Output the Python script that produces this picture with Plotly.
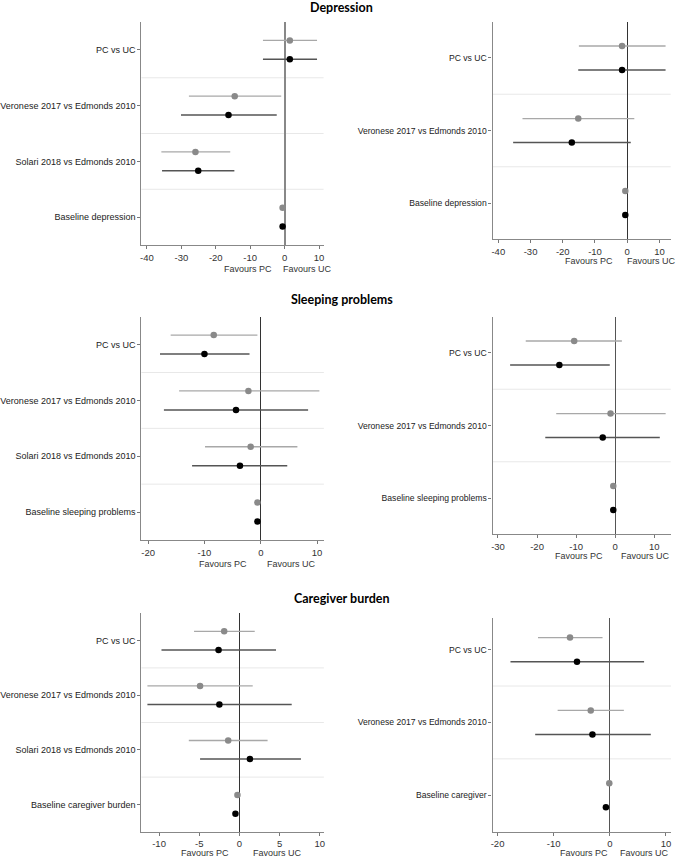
import plotly.graph_objects as go

# ---------------- data ----------------
cats4_dep = ["PC vs UC", "Veronese 2017 vs Edmonds 2010", "Solari 2018 vs Edmonds 2010", "Baseline depression"]
cats3_dep = ["PC vs UC", "Veronese 2017 vs Edmonds 2010", "Baseline depression"]
cats4_sleep = ["PC vs UC", "Veronese 2017 vs Edmonds 2010", "Solari 2018 vs Edmonds 2010", "Baseline sleeping problems"]
cats3_sleep = ["PC vs UC", "Veronese 2017 vs Edmonds 2010", "Baseline sleeping problems"]
cats4_care = ["PC vs UC", "Veronese 2017 vs Edmonds 2010", "Solari 2018 vs Edmonds 2010", "Baseline caregiver burden"]
cats3_care = ["PC vs UC", "Veronese 2017 vs Edmonds 2010", "Baseline caregiver"]

# Panel 1: Depression (left)
p1_gray_est = [1.5, -14.5, -25.9, -0.6]
p1_gray_lo = [-6.3, -27.8, -35.8, -0.6]
p1_gray_hi = [9.4, -1.0, -15.8, -0.6]
p1_black_est = [1.5, -16.3, -25.1, -0.6]
p1_black_lo = [-6.3, -30.1, -35.6, -0.6]
p1_black_hi = [9.4, -2.3, -14.6, -0.6]

# Panel 2: Depression (right)
p2_gray_est = [-1.6, -15.2, -0.6]
p2_gray_lo = [-15.0, -32.5, -0.6]
p2_gray_hi = [11.9, 2.2, -0.6]
p2_black_est = [-1.6, -17.2, -0.6]
p2_black_lo = [-15.2, -35.4, -0.6]
p2_black_hi = [11.9, 1.1, -0.6]

# Panel 3: Sleeping problems (left)
p3_gray_est = [-8.35, -2.2, -1.8, -0.6]
p3_gray_lo = [-16.0, -14.5, -9.9, -0.6]
p3_gray_hi = [-0.6, 10.4, 6.5, -0.6]
p3_black_est = [-10.0, -4.4, -3.7, -0.6]
p3_black_lo = [-17.9, -17.2, -12.2, -0.6]
p3_black_hi = [-2.0, 8.4, 4.7, -0.6]

# Panel 4: Sleeping problems (right)
p4_gray_est = [-10.5, -1.2, -0.5]
p4_gray_lo = [-22.9, -15.1, -0.5]
p4_gray_hi = [1.7, 12.9, -0.5]
p4_black_est = [-14.3, -3.2, -0.5]
p4_black_lo = [-26.9, -17.9, -0.5]
p4_black_hi = [-1.4, 11.4, -0.5]

# Panel 5: Caregiver burden (left)
p5_gray_est = [-1.9, -4.9, -1.4, -0.25]
p5_gray_lo = [-5.65, -11.45, -6.3, -0.25]
p5_gray_hi = [1.9, 1.65, 3.5, -0.25]
p5_black_est = [-2.6, -2.5, 1.3, -0.5]
p5_black_lo = [-9.7, -11.45, -4.9, -0.5]
p5_black_hi = [4.55, 6.5, 7.65, -0.5]

# Panel 6: Caregiver burden (right)
p6_gray_est = [-7.1, -3.4, -0.1]
p6_gray_lo = [-12.8, -9.3, -0.1]
p6_gray_hi = [-1.3, 2.5, -0.1]
p6_black_est = [-5.85, -3.1, -0.7]
p6_black_lo = [-17.7, -13.3, -0.7]
p6_black_hi = [6.1, 7.3, -0.7]

x_ticks_40 = [-40, -30, -20, -10, 0, 10]
x_ticks_30 = [-30, -20, -10, 0, 10]
x_ticks_20 = [-20, -10, 0, 10]
x_ticks_10 = [-10, -5, 0, 5, 10]

titles = ["Depression", "Sleeping problems", "Caregiver burden"]

# ---------------- layout helpers ----------------
W, H = 678, 858

def px_x(p):
    return p / W

def px_y(p):
    return 1 - p / H

panels = [
    dict(cats=cats4_dep, g=(p1_gray_est, p1_gray_lo, p1_gray_hi), b=(p1_black_est, p1_black_lo, p1_black_hi),
         xdom=(140, 323), ydom=(22, 245), xr=[-41.6, 11.3], ticks=x_ticks_40, off=0.17, ytop=None,
         fav=(246.7, 306.7, 268.5), zcol="#888888", zw=1.6, lfs=9),
    dict(cats=cats3_dep, g=(p2_gray_est, p2_gray_lo, p2_gray_hi), b=(p2_black_est, p2_black_lo, p2_black_hi),
         xdom=(492.7, 671.7), ydom=(21.7, 239.3), xr=[-41.8, 13.5], ticks=x_ticks_40, off=0.165, ytop=None,
         fav=(589.3, 652.3, 260.5), zcol="#333333", zw=1.2, lfs=8.6),
    dict(cats=cats4_sleep, g=(p3_gray_est, p3_gray_lo, p3_gray_hi), b=(p3_black_est, p3_black_lo, p3_black_hi),
         xdom=(140, 323.3), ydom=(316.7, 540), xr=[-21.2, 11.2], ticks=x_ticks_20, off=0.17, ytop=None,
         fav=(222, 290.3, 563.5), zcol="#333333", zw=1.2, lfs=9),
    dict(cats=cats3_sleep, g=(p4_gray_est, p4_gray_lo, p4_gray_hi), b=(p4_black_est, p4_black_lo, p4_black_hi),
         xdom=(492.7, 671.7), ydom=(316.7, 534.3), xr=[-31.4, 14.2], ticks=x_ticks_30, off=0.165, ytop=None,
         fav=(579.7, 646.3, 556), zcol="#555555", zw=1.4, lfs=8.6),
    dict(cats=cats4_care, g=(p5_gray_est, p5_gray_lo, p5_gray_hi), b=(p5_black_est, p5_black_lo, p5_black_hi),
         xdom=(140, 323.3), ydom=(613.3, 831.7), xr=[-12.2, 10.5], ticks=x_ticks_10, off=0.17, ytop=None,
         fav=(203.7, 277, 853.3), zcol="#333333", zw=1.2, lfs=9),
    dict(cats=cats3_care, g=(p6_gray_est, p6_gray_lo, p6_gray_hi), b=(p6_black_est, p6_black_lo, p6_black_hi),
         xdom=(492.7, 672), ydom=(618.3, 831.7), xr=[-20.9, 10.9], ticks=x_ticks_20, off=0.165, ytop=2.43,
         fav=(584.5, 645.5, 853.3), zcol="#555555", zw=1.2, lfs=8.6),
]

GRAY_PT = "#8a8a8a"
GRAY_LN = "#a8a8a8"
BLACK_PT = "#000000"
BLACK_LN = "#555555"
FONT = "Liberation Sans, Arial, sans-serif"

fig = go.Figure()
annotations = []
shapes = []
layout_axes = {}

for i, p in enumerate(panels):
    n = len(p["cats"])
    ax = "" if i == 0 else str(i + 1)
    xref = "x" + ax
    yref = "y" + ax
    ypos = [n - 1 - k for k in range(n)]
    for series, ptc, lnc, sign in ((p["g"], GRAY_PT, GRAY_LN, 1), (p["b"], BLACK_PT, BLACK_LN, -1)):
        est, lo, hi = series
        fig.add_trace(go.Scatter(
            x=est, y=[y + sign * p["off"] for y in ypos],
            mode="markers",
            marker=dict(color=ptc, size=6.5),
            error_x=dict(type="data", symmetric=False,
                         array=[h - e for h, e in zip(hi, est)],
                         arrayminus=[e - l for e, l in zip(est, lo)],
                         width=0, thickness=1.3 if sign > 0 else 1.5, color=lnc),
            xaxis=xref, yaxis=yref, showlegend=False, hoverinfo="x+y",
        ))
    x0, x1 = p["xdom"]
    y0, y1 = p["ydom"]
    ytop = p["ytop"] if p["ytop"] is not None else n - 0.5
    layout_axes["xaxis" + ax] = dict(
        domain=[px_x(x0), px_x(x1)], anchor=yref, range=p["xr"],
        tickvals=p["ticks"], ticktext=[str(t) for t in p["ticks"]],
        ticks="outside", ticklen=3, tickcolor="#777777",
        showline=True, linecolor="#888888", linewidth=1.2, mirror=False,
        showgrid=False, zeroline=True, zerolinecolor=p["zcol"], zerolinewidth=p["zw"],
        tickfont=dict(family=FONT, size=9.5, color="#333333"), fixedrange=True,
    )
    layout_axes["yaxis" + ax] = dict(
        domain=[px_y(y1), px_y(y0)], anchor=xref, range=[-0.5, ytop],
        tickvals=ypos, ticktext=p["cats"], ticks="outside", ticklen=3, tickcolor="#777777",
        showline=True, linecolor="#888888", linewidth=1.2,
        showgrid=False, zeroline=False,
        tickfont=dict(family=FONT, size=p["lfs"], color="#222222"), fixedrange=True,
    )
    # band separators
    for k in range(n - 1):
        shapes.append(dict(type="line", xref=xref + " domain", yref=yref,
                           x0=0, x1=1, y0=k + 0.5, y1=k + 0.5,
                           line=dict(color="#e8e8e8", width=1), layer="below"))
    fpc, fuc, fy = p["fav"]
    for txt, fx in (("Favours PC", fpc), ("Favours UC", fuc)):
        annotations.append(dict(text=txt, x=px_x(fx), y=px_y(fy), xref="paper", yref="paper",
                                xanchor="center", yanchor="middle", showarrow=False,
                                font=dict(family=FONT, size=9, color="#333333")))

for t, ty in zip(titles, (7, 300, 598.3)):
    annotations.append(dict(text="<b>" + t + "</b>", x=px_x(341.5), y=px_y(ty), xref="paper", yref="paper",
                            xanchor="center", yanchor="middle", showarrow=False,
                            font=dict(family="Lato, Open Sans, sans-serif", size=12.5, color="#000000")))

fig.update_layout(
    width=W, height=H, margin=dict(l=0, r=0, t=0, b=0),
    paper_bgcolor="white", plot_bgcolor="white",
    annotations=annotations, shapes=shapes, showlegend=False,
    **layout_axes,
)

fig.write_html("out.html", config={"displayModeBar": False},
               post_script="document.body.style.margin='0';document.body.style.overflow='hidden';")
